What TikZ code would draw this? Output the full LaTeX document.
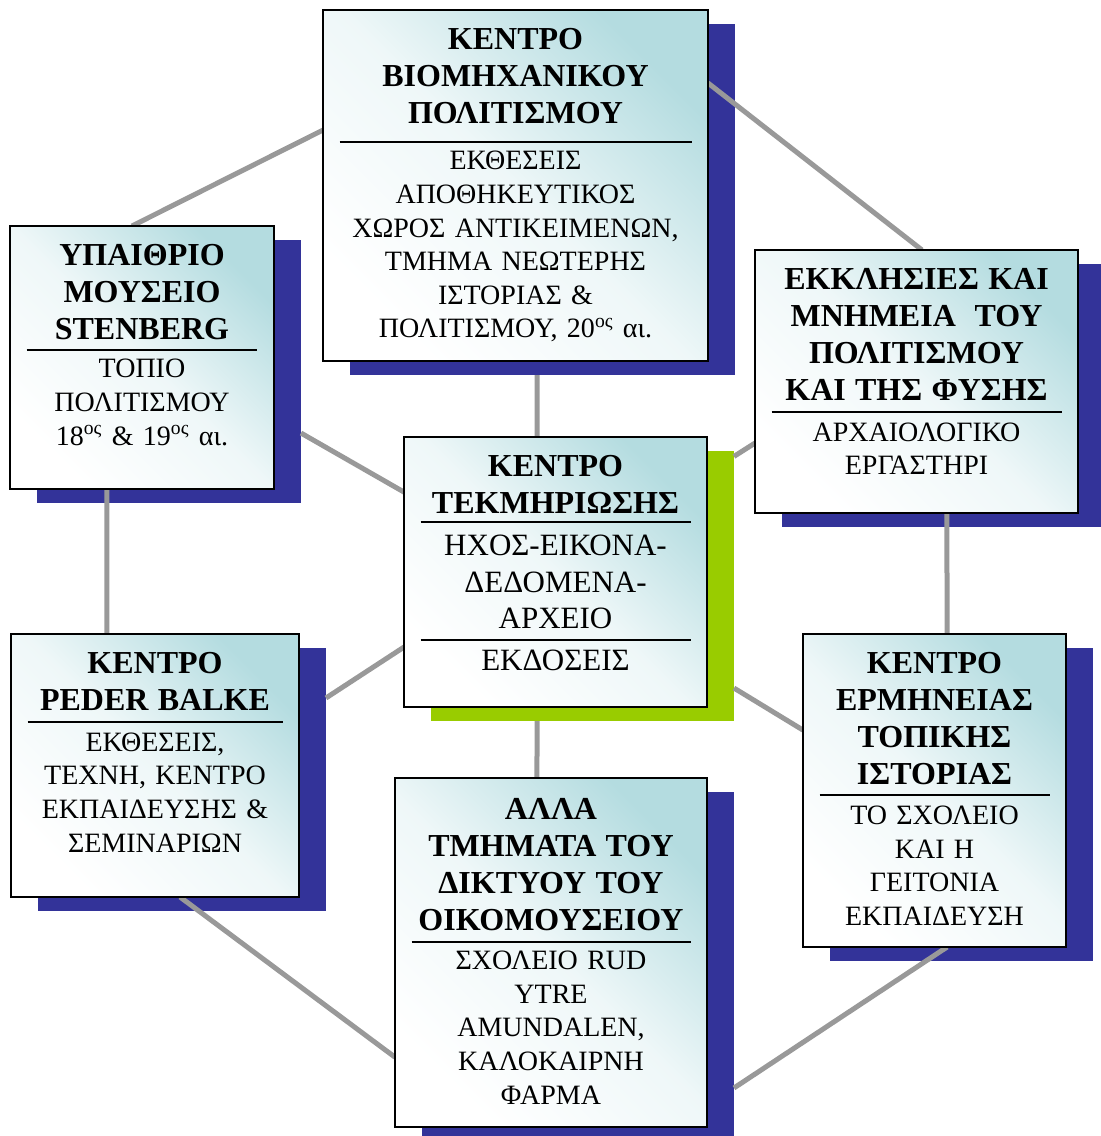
\documentclass[tikz,border=0pt]{standalone}
\usepackage{fontspec}
\setmainfont{Liberation Serif}
\usetikzlibrary{calc}
\definecolor{shblue}{HTML}{333399}
\definecolor{shgreen}{HTML}{99CC00}
\definecolor{tealgl}{HTML}{B4DCE0}
\definecolor{linkgray}{HTML}{999999}
\pgfdeclarelayer{background}
\pgfsetlayers{background,main}
\newcommand{\ttl}{\fontsize{16}{18.5}\selectfont\bfseries}
\newcommand{\sepline}[2]{\par\kern#1\hrule height 1pt\kern#2\strut}

\begin{document}
\begin{tikzpicture}[x = 0.5pt, y = -0.5pt]
\tikzstyle{unitStyle} = [rectangle, draw = black, line width = 1pt, outer sep = 0pt, top color = tealgl, bottom color = white, middle color = tealgl!22!white, shading angle = -45]
\tikzstyle{textStyle} = [inner sep = 0pt, anchor = north, align = center, font = \fontsize{14}{16.8}\selectfont]
\tikzstyle{shadowStyle} = [fill = shblue]
\tikzstyle{linkStyle} = [draw = linkgray, line width = 2.5pt]
\useasboundingbox (0,0) rectangle (1100,1136);
\node[unitStyle, minimum width = 192.5pt, minimum height = 175.5pt] (bio) at (515.5,185.5) {};
\node[unitStyle, minimum width = 132pt, minimum height = 131.5pt] (sten) at (142,357.5) {};
\node[unitStyle, minimum width = 151.5pt, minimum height = 135pt] (hub) at (555.5,572) {};
\node[unitStyle, minimum width = 161.5pt, minimum height = 131.5pt] (ekkl) at (916.5,381.5) {};
\node[unitStyle, minimum width = 144pt, minimum height = 131.5pt] (balke) at (155,765.5) {};
\node[unitStyle, minimum width = 156pt, minimum height = 174.5pt] (alla) at (551,952.5) {};
\node[unitStyle, minimum width = 131.5pt, minimum height = 156.5pt] (erm) at (934.5,790.5) {};
\node[textStyle, text width = 176pt] (bio-t) at ([yshift=-9pt]bio.north) {{\ttl ΚΕΝΤΡΟ\\ΒΙΟΜΗΧΑΝΙΚΟΥ\\ΠΟΛΙΤΙΣΜΟΥ\par}\sepline{8.5pt}{1.7pt}ΕΚΘΕΣΕΙΣ\\ΑΠΟΘΗΚΕΥΤΙΚΟΣ\\ΧΩΡΟΣ ΑΝΤΙΚΕΙΜΕΝΩΝ,\\ΤΜΗΜΑ ΝΕΩΤΕΡΗΣ\\ΙΣΤΟΡΙΑΣ \&\\ΠΟΛΙΤΙΣΜΟΥ, 20\textsuperscript{ος} αι.};
\node[textStyle, text width = 115.5pt] (sten-t) at ([yshift=-9pt]sten.north) {{\ttl ΥΠΑΙΘΡΙΟ\\ΜΟΥΣΕΙΟ\\STENBERG\par}\sepline{4.5pt}{1.7pt}ΤΟΠΙΟ\\ΠΟΛΙΤΙΣΜΟΥ\\18\textsuperscript{ος} \& 19\textsuperscript{ος} αι.};
\node[textStyle, text width = 135pt, font = \fontsize{15.5}{18.25}\selectfont] (hub-t) at ([yshift=-9pt]hub.north) {{\ttl ΚΕΝΤΡΟ\\ΤΕΚΜΗΡΙΩΣΗΣ\par}\sepline{3.5pt}{3.7pt}ΗΧΟΣ-ΕΙΚΟΝΑ-\\ΔΕΔΟΜΕΝΑ-\\ΑΡΧΕΙΟ\sepline{5pt}{2.2pt}ΕΚΔΟΣΕΙΣ};
\node[textStyle, text width = 145pt] (ekkl-t) at ([yshift=-9pt]ekkl.north) {{\ttl ΕΚΚΛΗΣΙΕΣ ΚΑΙ\\ΜΝΗΜΕΙΑ\ \ ΤΟΥ\\ΠΟΛΙΤΙΣΜΟΥ\\ΚΑΙ ΤΗΣ ΦΥΣΗΣ\par}\sepline{5pt}{2.5pt}ΑΡΧΑΙΟΛΟΓΙΚΟ\\ΕΡΓΑΣΤΗΡΙ};
\node[textStyle, text width = 127.5pt] (balke-t) at ([yshift=-9pt]balke.north) {{\ttl ΚΕΝΤΡΟ\\PEDER BALKE\par}\sepline{5pt}{2.5pt}ΕΚΘΕΣΕΙΣ,\\ΤΕΧΝΗ, ΚΕΝΤΡΟ\\ΕΚΠΑΙΔΕΥΣΗΣ \&\\ΣΕΜΙΝΑΡΙΩΝ};
\node[textStyle, text width = 139.5pt] (alla-t) at ([yshift=-10pt]alla.north) {{\ttl ΑΛΛΑ\\ΤΜΗΜΑΤΑ ΤΟΥ\\ΔΙΚΤΥΟΥ ΤΟΥ\\ΟΙΚΟΜΟΥΣΕΙΟΥ\par}\sepline{5pt}{1.7pt}ΣΧΟΛΕΙΟ RUD\\YTRE\\AMUNDALEN,\\ΚΑΛΟΚΑΙΡΝΗ\\ΦΑΡΜΑ};
\node[textStyle, text width = 115pt] (erm-t) at ([yshift=-9pt]erm.north) {{\ttl ΚΕΝΤΡΟ\\ΕΡΜΗΝΕΙΑΣ\\ΤΟΠΙΚΗΣ\\ΙΣΤΟΡΙΑΣ\par}\sepline{4.5pt}{2.5pt}ΤΟ ΣΧΟΛΕΙΟ\\ΚΑΙ Η\\ΓΕΙΤΟΝΙΑ\\ΕΚΠΑΙΔΕΥΣΗ};
\begin{pgfonlayer}{background}
% shadows
\fill[shadowStyle] ([shift={(27,14)}]bio.north west) rectangle ([shift={(27,14)}]bio.south east);
\fill[shadowStyle] ([shift={(27,14)}]sten.north west) rectangle ([shift={(27,14)}]sten.south east);
\fill[fill = shgreen] ([shift={(27,14)}]hub.north west) rectangle ([shift={(27,14)}]hub.south east);
\fill[shadowStyle] ([shift={(27,14)}]ekkl.north west) rectangle ([shift={(27,14)}]ekkl.south east);
\fill[shadowStyle] ([shift={(27,14)}]balke.north west) rectangle ([shift={(27,14)}]balke.south east);
\fill[shadowStyle] ([shift={(27,14)}]alla.north west) rectangle ([shift={(27,14)}]alla.south east);
\fill[shadowStyle] ([shift={(27,14)}]erm.north west) rectangle ([shift={(27,14)}]erm.south east);
% links
\draw[linkStyle] ($(bio.north west)!0.342!(bio.south west)$) -- ($(sten.north west)!0.462!(sten.north east)$);
\draw[linkStyle] ($(bio.north east)!0.208!(bio.south east)$) -- ($(ekkl.north west)!0.517!(ekkl.north east)$);
\draw[linkStyle] ($(bio.south west)!0.556!(bio.south east)+(0,14)$) -- ($(hub.north west)!0.439!(hub.north east)$);
\draw[linkStyle] ($(sten.north east)!0.734!(sten.south east)+(27,14)$) -- ($(hub.north west)!0.204!(hub.south west)$);
\draw[linkStyle] ($(hub.north east)!0.02!(hub.south east)+(27,14)$) -- ($(ekkl.north west)!0.734!(ekkl.south west)$);
\draw[linkStyle] ($(balke.north east)!0.19!(balke.south east)+(27,14)$) -- ($(hub.north west)!0.778!(hub.south west)$);
\draw[linkStyle] ($(hub.north east)!0.878!(hub.south east)+(27,14)$) -- ($(erm.north west)!0.307!(erm.south west)$);
\draw[linkStyle] ($(hub.south west)!0.35!(hub.south east)+(27,14)$) -- ($(alla.north west)!0.455!(alla.north east)$);
\draw[linkStyle] ($(sten.south west)!0.367!(sten.south east)$) -- ($(balke.north west)!0.333!(balke.north east)$);
\draw[linkStyle] ($(ekkl.south west)!0.594!(ekkl.south east)$) -- ($(erm.north west)!0.548!(erm.north east)$);
\draw[linkStyle] ($(balke.south west)!0.587!(balke.south east)$) -- ($(alla.north west)!0.8!(alla.south west)$);
\draw[linkStyle] ($(alla.north east)!0.848!(alla.south east)+(27,14)$) -- ($(erm.south west)!0.548!(erm.south east)$);
\end{pgfonlayer}
\end{tikzpicture}
\end{document}
